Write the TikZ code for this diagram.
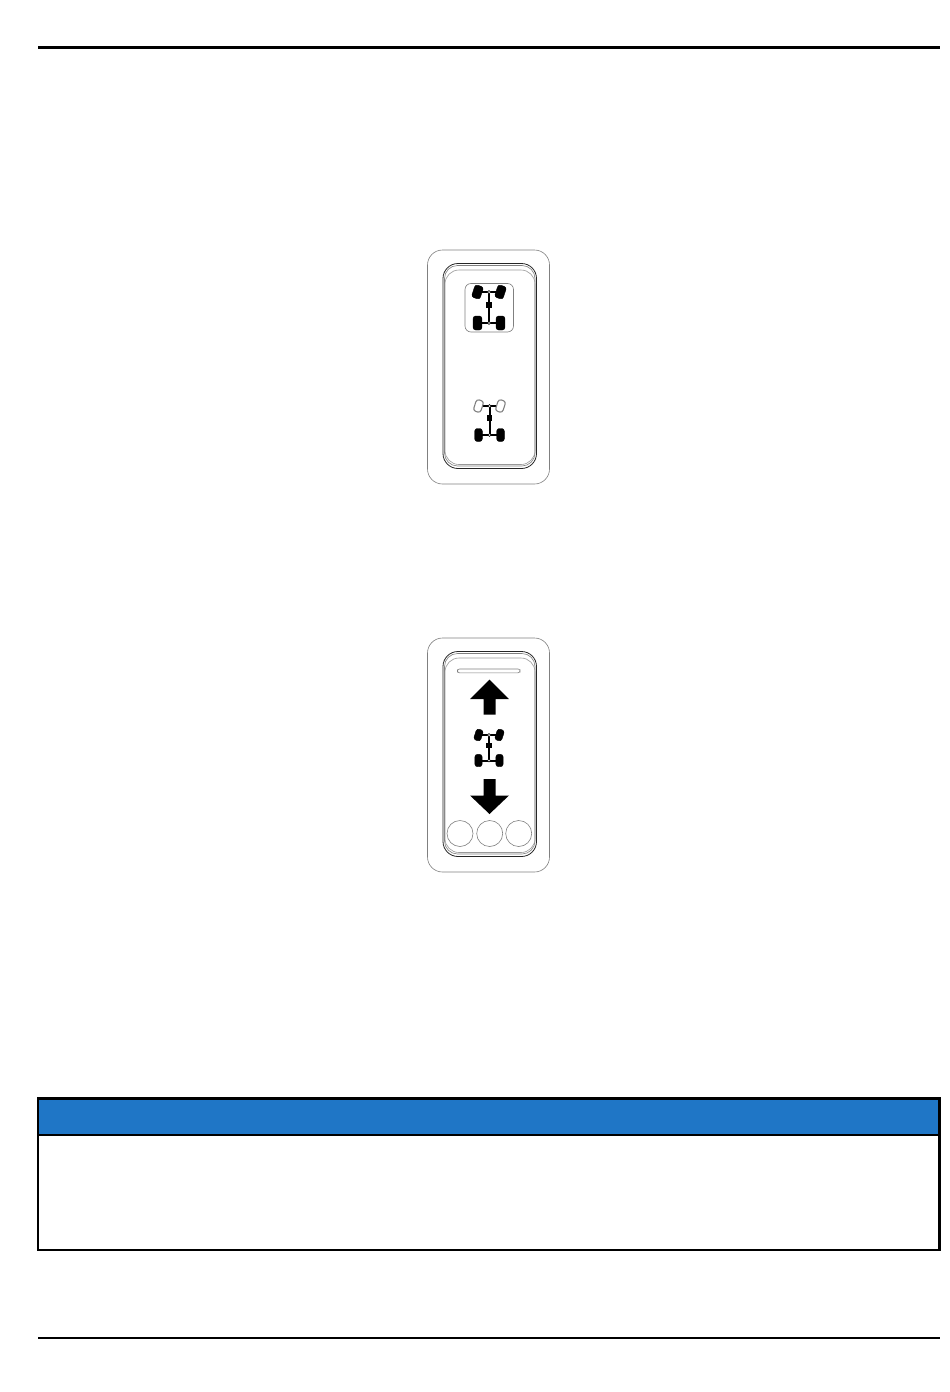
\documentclass[tikz,border=0pt]{standalone}
\usetikzlibrary{calc}
\definecolor{hdrblue}{HTML}{1F76C6}
\tikzset{
  x=1pt,y=-1pt,
  rulebar/.style={line width=2.8pt,black},
  frameA/.style={draw=black!50,line width=0.6pt,rounded corners=15pt},
  frameB/.style={draw=black!85,line width=0.8pt,rounded corners=15pt},
  frameC/.style={draw=black!40,line width=0.6pt,rounded corners=14pt},
  thin gray/.style={draw=black!50,line width=0.6pt},
  darkwheel/.style={fill=black,draw=black,line width=0.4pt,rounded corners=2.6pt},
  lightwheel/.style={fill=white,draw=black!50,line width=1.1pt,rounded corners=2.8pt},
  axle/.style={line width=2pt,black},
  hub/.style={fill=white,draw=black,line width=0.5pt},
  bigarrow/.style={fill=black,draw=none},
  pics/chassis/.style n args={5}{code={
    % #1 top wheel style, #2 half span, #3 wheelbase, #4 half width, #5 half height
    \draw[axle] (-#2,0) -- (#2,0);
    \draw[axle] (0,0) -- (0,#3);
    \draw[axle] (-#2,#3) -- (#2,#3);
    \fill[black] (-2.8,#3*0.32) rectangle (2.8,#3*0.52);
    \path[#1,rotate around={-18:(-#2,0)}] (-#2-#4,-#5+0.5) rectangle (-#2+#4,#5-0.5);
    \path[#1,rotate around={-18:(#2,0)}] (#2-#4,-#5+0.5) rectangle (#2+#4,#5-0.5);
    \path[darkwheel] (-#2-#4,#3-#5) rectangle (-#2+#4,#3+#5);
    \path[darkwheel] (#2-#4,#3-#5) rectangle (#2+#4,#3+#5);
    \path[hub] (0,0) circle (1.6);
    \path[hub] (0,#3) circle (1.5);
  }},
  pics/panel/.style={code={
    \path[frameA] (427.5,0) rectangle (549.5,234);
    \path[frameB] (443,13.5) rectangle (536.5,218.5);
    \path[frameA,rounded corners=13pt] (444.5,15.5) rectangle (535,216);
    \path[frameC] (445,20) rectangle (535,214.5);
  }}
}
\begin{document}
\begin{tikzpicture}
\useasboundingbox (0,0) rectangle (950,1392);
\fill[white] (0,0) rectangle (950,1392);

% page rules
\coordinate (ruleTopL) at (38,47.3);
\coordinate (ruleTopR) at (940,47.3);
\coordinate (ruleBotL) at (38,1338);
\coordinate (ruleBotR) at (940,1338);
\draw[rulebar] (ruleTopL) -- (ruleTopR);
\draw[rulebar] (ruleBotL) -- (ruleBotR);

% upper switch
\pic at (0,250) {panel};
\path[thin gray,rounded corners=6pt] (465,283.5) rectangle (513.5,332);
\pic at (489,292) {chassis={darkwheel}{11.5}{31}{4.4}{7}};
\pic at (489.5,406) {chassis={lightwheel}{11}{29}{3.8}{6.5}};

% lower switch
\pic at (0,638) {panel};
\path[thin gray,rounded corners=2pt] (457.5,669) rectangle (520,672.8);
\path[bigarrow] (489.5,679.5) -- (509,699) -- (495.5,699) -- (495.5,714.5)
  -- (483.5,714.5) -- (483.5,699) -- (470,699) -- cycle;
\pic at (489,735) {chassis={darkwheel}{10.5}{25.5}{3.6}{6.2}};
\path[bigarrow] (489.5,814) -- (509,795.5) -- (495.5,795.5) -- (495.5,779)
  -- (483.5,779) -- (483.5,795.5) -- (470,795.5) -- cycle;
\path[thin gray] (460,833.5) circle (13);
\path[thin gray] (489.7,833.5) circle (13);
\path[thin gray] (518.7,833.5) circle (13);

% note box
\fill[hdrblue] (38,1098.5) rectangle (939.5,1135);
\draw[black,line width=2.8pt] (38,1098.5) rectangle (939.5,1250);
\draw[black,line width=2.8pt] (38,1135) -- (939.5,1135);
\end{tikzpicture}
\end{document}
